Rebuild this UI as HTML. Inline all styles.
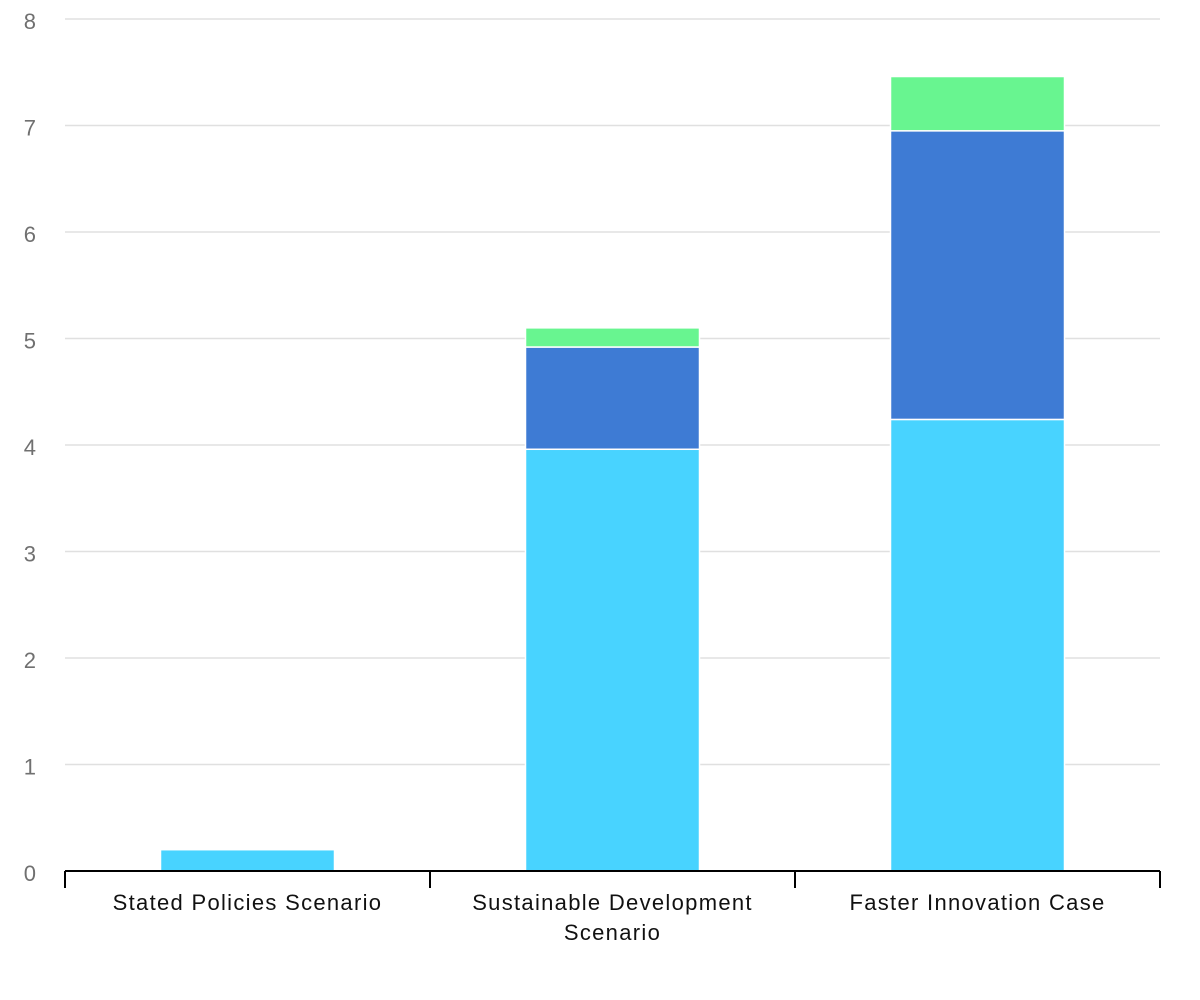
<!DOCTYPE html>
<html><head><meta charset="utf-8"><style>
html,body{margin:0;padding:0;background:#fff;}
svg{display:block;font-family:"Liberation Sans",Arial,sans-serif;}
</style></head><body>
<svg id="chart" width="1200" height="1000" viewBox="0 0 1200 1000"></svg>
<script>
const categories=[["Stated Policies Scenario"],["Sustainable Development","Scenario"],["Faster Innovation Case"]];
const seriesCyan=[0.2,3.96,4.24];
const seriesBlue=[0,0.96,2.71];
const seriesGreen=[0,0.18,0.51];
const yTicks=[0,1,2,3,4,5,6,7,8];
const seriesColors=["#48d3ff","#3e7bd4","#68f590"];
const seriesNames=["cyan","blue","green"];
const NS="http://www.w3.org/2000/svg";
const svg=document.getElementById('chart');
const x0=65,x1=1160,yBase=871,yTop=19,yMax=8;
const y=v=>yBase-(v/yMax)*(yBase-yTop);
const bw=(x1-x0)/categories.length;
const xc=i=>x0+bw*(i+0.5);
function mk(t,a){const e=document.createElementNS(NS,t);for(const k in a)e.setAttribute(k,a[k]);svg.appendChild(e);return e;}
yTicks.forEach(t=>{
  if(t>0){const g=mk('line',{x1:x0,x2:x1,y1:y(t),y2:y(t),stroke:'#e0e0e0','stroke-width':1.5});
  
  }
  const l=mk('text',{x:36,y:y(t)+10,'text-anchor':'end','font-size':22,fill:'#707070'});
  l.textContent=t;
  
  
});
const series=[seriesCyan,seriesBlue,seriesGreen];
categories.forEach((c,i)=>{
  let acc=0;
  series.forEach((s,j)=>{
    const v=s[i]; if(v<=0)return;
    const r=mk('rect',{x:xc(i)-87,width:174,y:y(acc+v),height:y(acc)-y(acc+v),fill:seriesColors[j],stroke:'#fff','stroke-width':1.5});
    
    
    acc+=v;
  });
  c.forEach((ln,k)=>{
    const t=mk('text',{x:xc(i),y:910+k*30,'text-anchor':'middle','font-size':22,'letter-spacing':1.3,fill:'#111'});
    t.textContent=ln;
    
    
  });
});
const ax=mk('line',{x1:x0,x2:x1,y1:yBase,y2:yBase,stroke:'#000','stroke-width':2});


for(let i=0;i<=categories.length;i++){
  const tk=mk('line',{x1:x0+bw*i,x2:x0+bw*i,y1:yBase,y2:yBase+17,stroke:'#000','stroke-width':2});
  
  
}
</script>
</body></html>
